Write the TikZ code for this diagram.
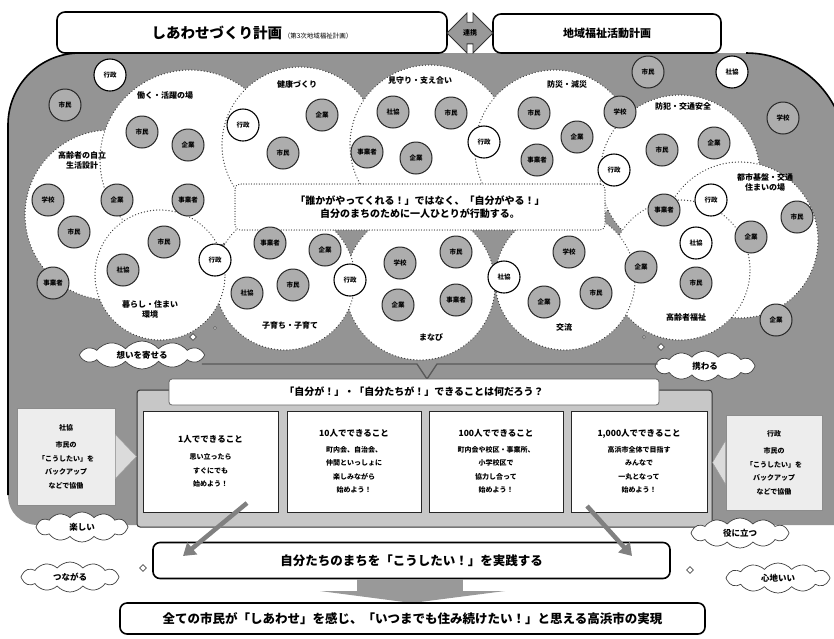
\documentclass[tikz,border=0pt]{standalone}
\usepackage{fontspec}
\setmainfont{Noto Sans CJK JP}
\usetikzlibrary{shapes.symbols,shapes.arrows,shapes.geometric,arrows.meta,calc}
\begin{document}
\begin{tikzpicture}[x=1pt,y=-1pt,
  sc/.style={circle, minimum size=32pt, inner sep=0pt, fill=black!32, draw=black!85, line width=1pt, font=\bfseries\fontsize{6.5}{7}\selectfont},
  gv/.style={sc, fill=white, draw=black, line width=1.1pt},
  cl/.style={circle, fill=white, draw=black!75, line width=1.3pt, dash pattern=on 0.1pt off 3pt, line cap=round, inner sep=0pt},
  lbl/.style={font=\bfseries\fontsize{8}{10}\selectfont, align=center, inner sep=1pt},
  cbox/.style={rectangle, rounded corners=5pt, fill=white, draw=black!75, line width=1.2pt, dash pattern=on 0.1pt off 2.5pt, line cap=round, align=center, font=\bfseries\fontsize{10}{13}\selectfont},
  cloudbox/.style={cloud, cloud puffs=12, cloud puff arc=100, aspect=4, fill=white, draw=black!75, line width=0.7pt, inner sep=1pt, font=\bfseries\fontsize{8.5}{10}\selectfont},
  frame/.style={rectangle, rounded corners=3pt, fill=black!22, draw=black!80, line width=1pt},
  tab/.style={rectangle, rounded corners=3pt, fill=white, draw=black!60, line width=0.8pt, font=\bfseries\fontsize{10}{12}\selectfont},
  pbox/.style={rectangle, fill=white, draw=black!85, line width=1pt, align=center, font=\bfseries\fontsize{7}{13.5}\selectfont},
  side/.style={rectangle, fill=black!7, draw=black!45, line width=0.8pt, align=center, font=\bfseries\fontsize{7}{13.5}\selectfont},
  bbox/.style={rectangle, rounded corners=7pt, fill=white, draw=black, line width=1.6pt, font=\bfseries\fontsize{12.5}{14}\selectfont},
  tbox/.style={rectangle, rounded corners=8pt, fill=white, draw=black, line width=1.6pt},
  bigarrow/.style={line width=4.5pt, draw=black!50, -{Triangle[length=12pt,width=15pt]}},
  dia/.style={diamond, draw=black!70, fill=white, inner sep=0pt, minimum size=7pt, line width=0.6pt},
  dotmark/.style={circle, draw=black!70, fill=white, inner sep=0pt, minimum size=3pt, line width=0.5pt},
  brace/.style={draw=black!65, line width=1.3pt}
]
\useasboundingbox (0,0) rectangle (834,638);
\fill[white] (0,0) rectangle (834,638);

% gray background area
\fill[black!42] (8,495) -- (8,125) .. controls (8,85) and (40,53) .. (80,53) -- (746,53) .. controls (801,53) and (846,98) .. (846,153) -- (846,525) -- (38,525) .. controls (21,525) and (8,512) .. (8,495) -- cycle;
\draw[line width=1.6pt] (8,495) -- (8,125) .. controls (8,85) and (40,53) .. (80,53);
\draw[line width=1.6pt] (746,53) .. controls (801,53) and (846,98) .. (846,153);

% clusters
\node[cl, minimum size=170pt] (cB) at (110,215) {};
\node[cl, minimum size=180pt] (cA) at (190,160) {};
\node[cl, minimum size=156pt] (cC) at (300,145) {};
\node[cl, minimum size=160pt] (cD) at (430,145) {};
\node[cl, minimum size=160pt] (cE) at (555,150) {};
\node[cl, minimum size=160pt] (cF) at (680,175) {};
\node[cl, minimum size=156pt] (cG) at (740,240) {};
\node[cl, minimum size=140pt] (cL) at (680,270) {};
\node[cl, minimum size=140pt] (cK) at (565,280) {};
\node[cl, minimum size=150pt] (cJ) at (420,285) {};
\node[cl, minimum size=140pt] (cI) at (285,280) {};
\node[cl, minimum size=130pt] (cH) at (160,275) {};

% center message
\node[cbox, minimum width=370pt, minimum height=46pt] (msg) at (420,207)
  {「誰かがやってくれる！」ではなく、「自分がやる！」\\自分のまちのために一人ひとりが行動する。};

% cluster labels
\node[lbl] (lA) at (165,95) {働く・活躍の場};
\node[lbl] (lB) at (82,160) {高齢者の自立\\生活設計};
\node[lbl] (lC) at (297,84) {健康づくり};
\node[lbl] (lD) at (420,80) {見守り・支え合い};
\node[lbl] (lE) at (567,84) {防災・減災};
\node[lbl] (lF) at (683,106) {防犯・交通安全};
\node[lbl] (lG) at (765,182) {都市基盤・交通\\住まいの場};
\node[lbl] (lH) at (150,309) {暮らし・住まい\\環境};
\node[lbl] (lI) at (290,325) {子育ち・子育て};
\node[lbl] (lJ) at (431,337) {まなび};
\node[lbl] (lK) at (564,327) {交流};
\node[lbl] (lL) at (686,317) {高齢者福祉};

% small actor circles
\foreach \i/\x/\y/\t/\s in {
  1/110/75/行政/gv, 2/65/105/市民/sc, 3/142/132/市民/sc, 4/188/145/企業/sc,
  5/243/125/行政/gv, 6/283/153/市民/sc, 7/322/115/企業/sc, 8/367/152/事業者/sc,
  9/393/112/社協/sc, 10/416/158/企業/sc, 11/451/113/市民/sc, 12/484/142/行政/gv,
  13/534/113/市民/sc, 14/537/160/事業者/sc, 15/577/137/企業/sc, 16/620/112/学校/sc,
  17/614/170/行政/gv, 18/662/150/市民/sc, 19/714/143/企業/sc, 20/783/118/学校/sc,
  21/664/210/事業者/sc, 22/711/200/行政/gv, 23/797/217/市民/sc, 24/696/243/社協/gv,
  25/751/237/企業/sc, 26/648/72/市民/sc, 27/732/72/社協/gv, 28/48/200/学校/sc,
  29/117/200/企業/sc, 30/74/232/市民/sc, 31/188/200/事業者/sc, 32/164/242/市民/sc,
  33/53/283/事業者/sc, 34/123/270/社協/sc, 35/215/260/行政/gv, 36/270/243/事業者/sc,
  37/325/250/企業/sc, 38/247/293/社協/sc, 39/293/285/市民/sc, 40/350/280/行政/gv,
  41/400/263/学校/sc, 42/398/305/企業/sc, 43/456/252/市民/sc, 44/504/277/社協/gv,
  45/456/300/事業者/sc, 46/544/302/企業/sc, 47/596/293/市民/sc, 48/569/252/学校/sc,
  49/641/267/企業/sc, 50/696/283/市民/sc, 51/776/320/企業/sc}
  {\node[\s] (s\i) at (\x,\y) {\t};}

% small marks
\node[dia] (d1) at (193,337) {};
\node[dia] (d2) at (661,347) {};
\node[dia] (d3) at (143,568) {};
\node[dia] (d4) at (690,570) {};
\node[dotmark] (m1) at (215,328) {};
\node[dotmark] (m2) at (644,337) {};

% clouds joined by the brace
\coordinate (vL) at (417,364);
\coordinate (vT) at (427,379);
\coordinate (vR) at (437,364);
\node[cloudbox, minimum width=125pt, minimum height=28pt] (k1) at (142,355) {想いを寄せる};
\node[cloudbox, minimum width=100pt, minimum height=30pt] (k2) at (705,366) {携わる};
\draw[brace] ([xshift=-3pt]k1.east |- vL) -- (vL) -- (vT) -- (vR) -- ([xshift=3pt]k2.west |- vR);

% frame with four boxes
\node[frame, minimum width=575pt, minimum height=137pt] (fr) at (424.5,458.5) {};
\node[tab, minimum width=490pt, minimum height=26pt] (q) at (414,392) {「自分が！」・「自分たちが！」できることは何だろう？};
\node[pbox, minimum width=135pt, minimum height=101pt] (b1) at (210.5,461.5)
  {{\fontsize{8.5}{10}\selectfont 1人でできること}\\[4pt]思い立ったら\\すぐにでも\\始めよう！};
\node[pbox, minimum width=134pt, minimum height=101pt] (b2) at (354,461.5)
  {{\fontsize{8.5}{10}\selectfont 10人でできること}\\[2pt]町内会、自治会、\\仲間といっしょに\\楽しみながら\\始めよう！};
\node[pbox, minimum width=134pt, minimum height=101pt] (b3) at (496,461.5)
  {{\fontsize{8.5}{10}\selectfont 100人でできること}\\[2pt]町内会や校区・事業所、\\小学校区で\\協力し合って\\始めよう！};
\node[pbox, minimum width=136pt, minimum height=101pt] (b4) at (639,461.5)
  {{\fontsize{8.5}{10}\selectfont 1,000人でできること}\\[2pt]高浜市全体で目指す\\みんなで\\一丸となって\\始めよう！};

% side boxes
\node[side, minimum width=98pt, minimum height=97pt] (sk) at (66,456.5)
  {社協\\[4pt]市民の\\「こうしたい」を\\バックアップ\\などで協働};
\node[side, minimum width=96pt, minimum height=95pt] (gs) at (774,462.5)
  {行政\\[4pt]市民の\\「こうしたい」を\\バックアップ\\などで協働};
\fill[black!14, draw=black!40] ($(sk.east)+(0,-22)$) -- ($(fr.west)+(0,-2)$) -- ($(sk.east)+(0,22)$) -- cycle;
\fill[black!14, draw=black!40] ($(gs.west)+(0,-22)$) -- ($(fr.east)+(0,4)$) -- ($(gs.west)+(0,22)$) -- cycle;

% clouds
\node[cloudbox, minimum width=92pt, minimum height=30pt] (k3) at (82,527) {楽しい};
\node[cloudbox, minimum width=98pt, minimum height=30pt] (k4) at (740,533) {役に立つ};
\node[cloudbox, minimum width=98pt, minimum height=30pt] (k5) at (70,577) {つながる};
\node[cloudbox, minimum width=104pt, minimum height=30pt] (k6) at (778,578) {心地いい};

% bottom boxes
\node[bbox, minimum width=517pt, minimum height=36pt] (bot) at (411.5,560.5) {自分たちのまちを「こうしたい！」を実践する};
\coordinate (a1s) at (247,503);
\coordinate (a1e) at (183,556);
\coordinate (a2s) at (587,506);
\coordinate (a2e) at (632,556);
\draw[bigarrow] (a1s) -- (a1e);
\draw[bigarrow] (a2s) -- (a2e);

\fill[black!40] (357,579) rectangle (463,592);
\fill[black!40] (320,591) -- (505,591) -- (412,603) -- cycle;
\node[bbox, minimum width=585pt, minimum height=31pt] (fin) at (412.5,618.5)
  {全ての市民が「しあわせ」を感じ、「いつまでも住み続けたい！」と思える高浜市の実現};

% top title boxes
\node[tbox, minimum width=390pt, minimum height=41pt] (t1) at (252,32.5)
  {{\bfseries\fontsize{14.5}{16}\selectfont しあわせづくり計画}\,{\fontsize{6.5}{8}\selectfont （第3次地域福祉計画）}};
\node[tbox, minimum width=228pt, minimum height=39pt, font=\bfseries\fontsize{11}{13}\selectfont] (t2) at (607,33.5) {地域福祉活動計画};
\node[double arrow, double arrow head extend=4pt, fill=black!40, draw=black!80, line width=0.8pt,
      minimum height=46pt, minimum width=40pt, inner sep=1pt, font=\bfseries\fontsize{7}{8}\selectfont] (rk) at (470,33) {連携};
\end{tikzpicture}
\end{document}
